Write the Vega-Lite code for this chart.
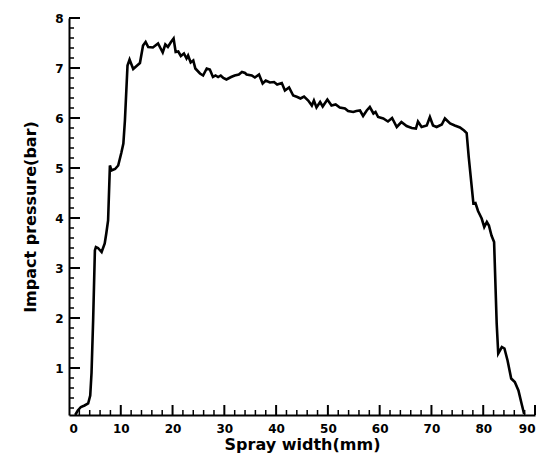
{
  "$schema": "https://vega.github.io/schema/vega-lite/v6.json",
  "autosize": "none",
  "width": 466,
  "height": 397,
  "padding": {"left": 69, "top": 18, "right": 12, "bottom": 39},
  "background": "white",
  "config": {
    "view": {"stroke": null},
    "axis": {
      "grid": false,
      "domainColor": "black",
      "domainWidth": 2,
      "labelFont": "DejaVu Sans",
      "labelFontWeight": "bold",
      "labelFontSize": 12,
      "labelColor": "black",
      "titleFont": "DejaVu Sans",
      "titleFontWeight": "bold",
      "titleFontSize": 16,
      "titleColor": "black"
    }
  },
  "datasets": {
    "curve": [
      {"x": 1.2, "y": 0.06}, {"x": 1.7, "y": 0.15}, {"x": 2.3, "y": 0.22}, {"x": 3.0, "y": 0.25},
      {"x": 3.7, "y": 0.29}, {"x": 4.1, "y": 0.45}, {"x": 4.35, "y": 0.9}, {"x": 4.66, "y": 1.95},
      {"x": 5.0, "y": 3.35}, {"x": 5.2, "y": 3.42}, {"x": 5.6, "y": 3.4}, {"x": 6.3, "y": 3.32},
      {"x": 6.9, "y": 3.49}, {"x": 7.2, "y": 3.69}, {"x": 7.55, "y": 3.95}, {"x": 7.9, "y": 5.05},
      {"x": 8.2, "y": 4.95}, {"x": 8.9, "y": 4.98}, {"x": 9.5, "y": 5.05}, {"x": 10.1, "y": 5.3},
      {"x": 10.5, "y": 5.49}, {"x": 10.8, "y": 5.95}, {"x": 11.3, "y": 7.05}, {"x": 11.7, "y": 7.17},
      {"x": 12.4, "y": 6.98}, {"x": 13.7, "y": 7.1}, {"x": 14.3, "y": 7.45}, {"x": 14.8, "y": 7.52},
      {"x": 15.3, "y": 7.42}, {"x": 16.2, "y": 7.41}, {"x": 17.2, "y": 7.49}, {"x": 18.1, "y": 7.31},
      {"x": 18.6, "y": 7.47}, {"x": 19.1, "y": 7.42}, {"x": 19.7, "y": 7.52}, {"x": 20.2, "y": 7.59},
      {"x": 20.6, "y": 7.32}, {"x": 21.1, "y": 7.33}, {"x": 21.6, "y": 7.24}, {"x": 22.2, "y": 7.29},
      {"x": 22.7, "y": 7.19}, {"x": 23.0, "y": 7.25}, {"x": 23.5, "y": 7.11}, {"x": 24.0, "y": 7.15},
      {"x": 24.4, "y": 6.99}, {"x": 25.3, "y": 6.89}, {"x": 25.9, "y": 6.85}, {"x": 26.6, "y": 6.99},
      {"x": 27.2, "y": 6.97}, {"x": 27.8, "y": 6.82}, {"x": 28.3, "y": 6.85}, {"x": 28.8, "y": 6.82},
      {"x": 29.3, "y": 6.85}, {"x": 29.8, "y": 6.8}, {"x": 30.4, "y": 6.77}, {"x": 31.3, "y": 6.82},
      {"x": 32.0, "y": 6.85}, {"x": 32.8, "y": 6.87}, {"x": 33.4, "y": 6.92}, {"x": 34.0, "y": 6.9},
      {"x": 34.3, "y": 6.87}, {"x": 35.3, "y": 6.85}, {"x": 35.9, "y": 6.81}, {"x": 36.7, "y": 6.87},
      {"x": 37.4, "y": 6.69}, {"x": 38.0, "y": 6.75}, {"x": 38.8, "y": 6.71}, {"x": 39.6, "y": 6.72},
      {"x": 40.2, "y": 6.67}, {"x": 41.1, "y": 6.7}, {"x": 41.7, "y": 6.55}, {"x": 42.5, "y": 6.61},
      {"x": 43.3, "y": 6.45}, {"x": 44.1, "y": 6.42}, {"x": 44.7, "y": 6.39}, {"x": 45.4, "y": 6.43},
      {"x": 46.2, "y": 6.35}, {"x": 46.9, "y": 6.25}, {"x": 47.3, "y": 6.35}, {"x": 47.8, "y": 6.21},
      {"x": 48.5, "y": 6.32}, {"x": 49.0, "y": 6.23}, {"x": 49.9, "y": 6.37}, {"x": 50.7, "y": 6.25},
      {"x": 51.5, "y": 6.27}, {"x": 52.3, "y": 6.21}, {"x": 53.3, "y": 6.19}, {"x": 53.9, "y": 6.14},
      {"x": 54.9, "y": 6.12}, {"x": 55.5, "y": 6.14}, {"x": 56.2, "y": 6.15}, {"x": 56.8, "y": 6.04},
      {"x": 57.5, "y": 6.15}, {"x": 58.1, "y": 6.22}, {"x": 58.8, "y": 6.09}, {"x": 59.2, "y": 6.12},
      {"x": 59.7, "y": 6.02}, {"x": 60.7, "y": 5.99}, {"x": 61.6, "y": 5.93}, {"x": 62.4, "y": 6.0},
      {"x": 63.3, "y": 5.82}, {"x": 64.2, "y": 5.92}, {"x": 65.2, "y": 5.84}, {"x": 66.2, "y": 5.8},
      {"x": 67.0, "y": 5.79}, {"x": 67.4, "y": 5.93}, {"x": 68.1, "y": 5.82}, {"x": 69.1, "y": 5.85},
      {"x": 69.7, "y": 6.02}, {"x": 70.3, "y": 5.85}, {"x": 71.0, "y": 5.82}, {"x": 72.0, "y": 5.87},
      {"x": 72.6, "y": 5.99}, {"x": 73.6, "y": 5.89}, {"x": 74.5, "y": 5.85}, {"x": 75.5, "y": 5.81},
      {"x": 76.3, "y": 5.75}, {"x": 76.8, "y": 5.7}, {"x": 77.2, "y": 5.22}, {"x": 78.1, "y": 4.29},
      {"x": 78.5, "y": 4.3}, {"x": 79.0, "y": 4.14}, {"x": 79.7, "y": 3.99}, {"x": 80.2, "y": 3.82},
      {"x": 80.7, "y": 3.92}, {"x": 81.1, "y": 3.85}, {"x": 81.6, "y": 3.65}, {"x": 82.1, "y": 3.52},
      {"x": 82.6, "y": 1.89}, {"x": 82.9, "y": 1.29}, {"x": 83.6, "y": 1.42}, {"x": 84.1, "y": 1.39},
      {"x": 84.7, "y": 1.15}, {"x": 85.4, "y": 0.79}, {"x": 86.1, "y": 0.72}, {"x": 86.8, "y": 0.55},
      {"x": 87.4, "y": 0.29}, {"x": 87.9, "y": 0.08}
    ],
    "xmajor": [{"v": 10}, {"v": 20}, {"v": 30}, {"v": 40}, {"v": 50}, {"v": 60}, {"v": 70}, {"v": 80}, {"v": 90}],
    "xminor": [
      {"v": 2}, {"v": 4}, {"v": 6}, {"v": 8}, {"v": 12}, {"v": 14}, {"v": 16}, {"v": 18},
      {"v": 22}, {"v": 24}, {"v": 26}, {"v": 28}, {"v": 32}, {"v": 34}, {"v": 36}, {"v": 38},
      {"v": 42}, {"v": 44}, {"v": 46}, {"v": 48}, {"v": 52}, {"v": 54}, {"v": 56}, {"v": 58},
      {"v": 62}, {"v": 64}, {"v": 66}, {"v": 68}, {"v": 72}, {"v": 74}, {"v": 76}, {"v": 78},
      {"v": 82}, {"v": 84}, {"v": 86}, {"v": 88}
    ],
    "ymajor": [{"v": 1}, {"v": 2}, {"v": 3}, {"v": 4}, {"v": 5}, {"v": 6}, {"v": 7}, {"v": 8}],
    "yminor": [
      {"v": 0.2}, {"v": 0.4}, {"v": 0.6}, {"v": 0.8}, {"v": 1.2}, {"v": 1.4}, {"v": 1.6}, {"v": 1.8},
      {"v": 2.2}, {"v": 2.4}, {"v": 2.6}, {"v": 2.8}, {"v": 3.2}, {"v": 3.4}, {"v": 3.6}, {"v": 3.8},
      {"v": 4.2}, {"v": 4.4}, {"v": 4.6}, {"v": 4.8}, {"v": 5.2}, {"v": 5.4}, {"v": 5.6}, {"v": 5.8},
      {"v": 6.2}, {"v": 6.4}, {"v": 6.6}, {"v": 6.8}, {"v": 7.2}, {"v": 7.4}, {"v": 7.6}, {"v": 7.8}
    ]
  },
  "layer": [
    {
      "data": {"name": "curve"},
      "mark": {"type": "line", "color": "black", "strokeWidth": 2.6},
      "encoding": {
        "x": {
          "field": "x", "type": "quantitative",
          "scale": {"domain": [0, 90], "nice": false, "zero": false},
          "axis": {
            "orient": "bottom", "title": "Spray width(mm)",
            "values": [0,10,20,30,40,50,60,70,80,90],
            "ticks": false, "labelPadding": 8, "titlePadding": 2
          }
        },
        "y": {
          "field": "y", "type": "quantitative",
          "scale": {"domain": [0.06, 8], "nice": false, "zero": false},
          "axis": {
            "orient": "left", "title": "Impact pressure(bar)",
            "values": [1,2,3,4,5,6,7,8],
            "ticks": false, "labelPadding": 6, "titlePadding": 16
          }
        }
      }
    },
    {
      "data": {"name": "xmajor"},
      "mark": {"type": "rule", "color": "black", "strokeWidth": 2},
      "encoding": {
        "x": {"field": "v", "type": "quantitative"},
        "y": {"datum": 0.06, "type": "quantitative"},
        "y2": {"datum": 0.26}
      }
    },
    {
      "data": {"name": "xminor"},
      "mark": {"type": "rule", "color": "black", "strokeWidth": 1.5},
      "encoding": {
        "x": {"field": "v", "type": "quantitative"},
        "y": {"datum": 0.06, "type": "quantitative"},
        "y2": {"datum": 0.16}
      }
    },
    {
      "data": {"name": "ymajor"},
      "mark": {"type": "rule", "color": "black", "strokeWidth": 2},
      "encoding": {
        "y": {"field": "v", "type": "quantitative"},
        "x": {"datum": 0, "type": "quantitative"},
        "x2": {"datum": 2.12}
      }
    },
    {
      "data": {"name": "yminor"},
      "mark": {"type": "rule", "color": "black", "strokeWidth": 1.5},
      "encoding": {
        "y": {"field": "v", "type": "quantitative"},
        "x": {"datum": 0, "type": "quantitative"},
        "x2": {"datum": 0.97}
      }
    }
  ]
}
